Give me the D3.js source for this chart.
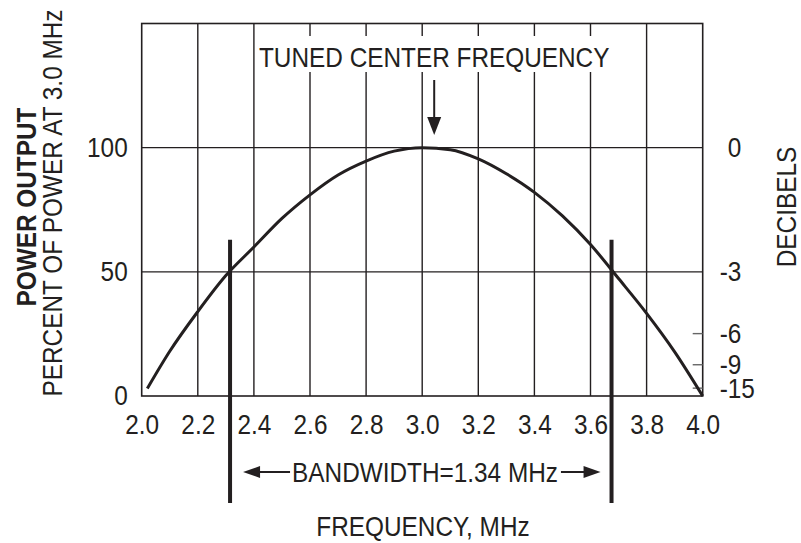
<!DOCTYPE html>
<html>
<head>
<meta charset="utf-8">
<script src="https://cdn.jsdelivr.net/npm/d3@7"></script>
<style>
    body { margin: 0; background: #fff; }
    text { font-family: "Liberation Sans", Arial, Helvetica, sans-serif; fill: #231f20; }
</style>
</head>
<body>
<svg id="chart" width="801" height="543"></svg>
<script>
// values
var frequency = [2.02, 2.1, 2.2, 2.3, 2.4, 2.5, 2.6, 2.7, 2.8, 2.9, 3.0, 3.1, 3.2, 3.3, 3.4, 3.5, 3.6, 3.7, 3.8, 3.9, 4.0];
var powerPercent = [3, 18, 34, 48.5, 60, 71.5, 81, 89, 94.6, 98.6, 100, 99.2, 95.5, 89.5, 82, 72.5, 61, 47.3, 33.3, 17.8, 0];

var freqTicks = [2.0, 2.2, 2.4, 2.6, 2.8, 3.0, 3.2, 3.4, 3.6, 3.8, 4.0];
var percentTicks = [0, 50, 100];
var decibelTicks = [0, -3, -6, -9, -15];
var bandEdges = [2.315, 3.675];
var centerFreq = 3.0;

var ink = "#231f20";
var fontSize = 28;
var squeeze = 0.87;   // the lettering in the original is a narrow sans
var svg = d3.select("#chart");

var x = d3.scaleLinear().domain([2, 4]).range([141.7, 702.7]);
var y = d3.scaleLinear().domain([0, 150]).range([396, 23.5]);

// dB -> percent of power
function dbToPercent(db)
{
    return 100 * Math.pow(10, db / 10);
}

// squash text horizontally, keeping whatever transform it already has
function narrow(sel)
{
    sel.style("font-size", fontSize + "px")
        .attr("transform", function ()
        {
            var t = this.getAttribute("transform") || "";
            return t + " scale(" + squeeze + ",1)";
        });
}

var grid = svg.append("g").attr("class", "grid");

grid.selectAll("line.v")
    .data(freqTicks.slice(1, -1))
    .enter().append("line")
    .attr("class", "v")
    .attr("x1", function (d) { return x(d); })
    .attr("x2", function (d) { return x(d); })
    .attr("y1", y(150))
    .attr("y2", y(0))
    .attr("stroke", ink)
    .attr("stroke-width", 1.4);

grid.selectAll("line.h")
    .data(percentTicks.slice(1))
    .enter().append("line")
    .attr("class", "h")
    .attr("x1", x(2))
    .attr("x2", x(4))
    .attr("y1", function (d) { return y(d); })
    .attr("y2", function (d) { return y(d); })
    .attr("stroke", ink)
    .attr("stroke-width", 1.4);

// frame
svg.append("rect")
    .attr("x", x(2))
    .attr("y", y(150))
    .attr("width", x(4) - x(2))
    .attr("height", y(0) - y(150))
    .attr("fill", "none")
    .attr("stroke", ink)
    .attr("stroke-width", 1.6);

// small dB ticks that do not sit on a grid line
svg.append("g")
    .selectAll("line")
    .data(decibelTicks.filter(function (d) { return d < -3; }))
    .enter().append("line")
    .attr("x1", x(4) - 10)
    .attr("x2", x(4))
    .attr("y1", function (d) { return y(dbToPercent(d)); })
    .attr("y2", function (d) { return y(dbToPercent(d)); })
    .attr("stroke", "#666")
    .attr("stroke-width", 1.4);

// the response curve
var line = d3.line()
    .x(function (d, i) { return x(frequency[i]); })
    .y(function (d) { return y(d); })
    .curve(d3.curveMonotoneX);

svg.append("path")
    .datum(powerPercent)
    .attr("d", line)
    .attr("fill", "none")
    .attr("stroke", ink)
    .attr("stroke-width", 3);

// axes
var xAxis = svg.append("g")
    .attr("transform", "translate(0," + y(0) + ")")
    .call(d3.axisBottom(x).tickValues(freqTicks).tickSize(0).tickPadding(18)
        .tickFormat(d3.format(".1f")));

var yAxis = svg.append("g")
    .attr("transform", "translate(" + x(2) + ",0)")
    .call(d3.axisLeft(y).tickValues(percentTicks).tickSize(0));

var dbAxis = svg.append("g")
    .attr("transform", "translate(" + x(4) + ",0)")
    .call(d3.axisRight(y)
        .tickValues(decibelTicks.map(dbToPercent))
        .tickSize(0)
        .tickFormat(function (d, i) { return String(decibelTicks[i]); }));

[xAxis, yAxis, dbAxis].forEach(function (a)
{
    a.select(".domain").remove();
    a.selectAll("text").attr("fill", ink).call(narrow);
});

// undo the squeeze on the label offsets
yAxis.selectAll(".tick text").attr("x", -14 / squeeze);
dbAxis.selectAll(".tick text")
    .attr("x", 17 / squeeze)
    .attr("dx", function (d, i) { return decibelTicks[i] === 0 ? "0.333em" : 0; });

// axis titles
svg.append("text")
    .attr("transform", "translate(36,207) rotate(-90)")
    .attr("text-anchor", "middle")
    .style("font-weight", "bold")
    .text("POWER OUTPUT")
    .call(narrow);

svg.append("text")
    .attr("transform", "translate(62,203) rotate(-90)")
    .attr("text-anchor", "middle")
    .text("PERCENT OF POWER AT 3.0 MHz")
    .call(narrow);

svg.append("text")
    .attr("transform", "translate(796,207) rotate(-90)")
    .attr("text-anchor", "middle")
    .text("DECIBELS")
    .call(narrow);

svg.append("text")
    .attr("transform", "translate(423,536)")
    .attr("text-anchor", "middle")
    .text("FREQUENCY, MHz")
    .call(narrow);

// tuned center frequency note
var arrowX = x(centerFreq) + 12;

svg.append("rect")
    .attr("x", 259)
    .attr("y", 36)
    .attr("width", 352)
    .attr("height", 36)
    .attr("fill", "#fff");

svg.append("text")
    .attr("transform", "translate(" + arrowX + ",67)")
    .attr("text-anchor", "middle")
    .text("TUNED CENTER FREQUENCY")
    .call(narrow);

svg.append("line")
    .attr("x1", arrowX).attr("x2", arrowX)
    .attr("y1", 80).attr("y2", 120)
    .attr("stroke", ink)
    .attr("stroke-width", 2);

svg.append("path")
    .attr("d", "M" + (arrowX - 7) + ",117L" + (arrowX + 7) + ",117L" + arrowX + ",135Z")
    .attr("fill", ink);

// bandwidth markers
svg.append("g")
    .selectAll("line")
    .data(bandEdges)
    .enter().append("line")
    .attr("x1", function (d) { return x(d); })
    .attr("x2", function (d) { return x(d); })
    .attr("y1", y(50) - 32)
    .attr("y2", 503)
    .attr("stroke", ink)
    .attr("stroke-width", 4);

var bwCenter = 425;
var bwText = svg.append("text")
    .attr("transform", "translate(" + bwCenter + ",482)")
    .attr("text-anchor", "middle")
    .text("BANDWIDTH=1.34 MHz")
    .call(narrow);

var halfW = bwText.node().getBBox().width * squeeze / 2;
var arrowY = 472;
var leftTip = x(bandEdges[0]) + 13;
var rightTip = x(bandEdges[1]) - 11;

svg.append("line")
    .attr("x1", leftTip + 10).attr("x2", bwCenter - halfW - 2)
    .attr("y1", arrowY).attr("y2", arrowY)
    .attr("stroke", ink).attr("stroke-width", 2);

svg.append("line")
    .attr("x1", bwCenter + halfW + 3).attr("x2", rightTip - 10)
    .attr("y1", arrowY).attr("y2", arrowY)
    .attr("stroke", ink).attr("stroke-width", 2);

svg.append("path")
    .attr("d", "M" + leftTip + "," + arrowY + "L" + (leftTip + 17) + "," + (arrowY - 6) +
        "L" + (leftTip + 17) + "," + (arrowY + 6) + "Z")
    .attr("fill", ink);

svg.append("path")
    .attr("d", "M" + rightTip + "," + arrowY + "L" + (rightTip - 17) + "," + (arrowY - 6) +
        "L" + (rightTip - 17) + "," + (arrowY + 6) + "Z")
    .attr("fill", ink);
</script>
</body>
</html>
